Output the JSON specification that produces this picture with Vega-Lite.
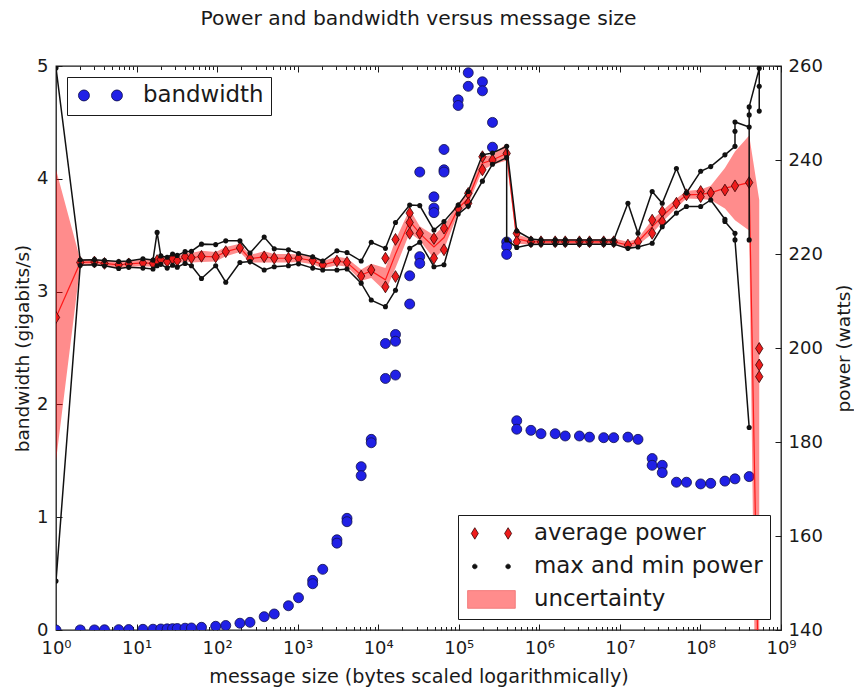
{
  "$schema": "https://vega.github.io/schema/vega-lite/v6.json",
  "width": 725,
  "height": 564,
  "autosize": {"type": "none"},
  "padding": {"left": 56, "top": 66, "right": 73, "bottom": 60},
  "background": "white",
  "title": {
    "text": "Power and bandwidth versus message size",
    "fontSize": 20.3,
    "fontWeight": "normal",
    "font": "DejaVu Sans",
    "color": "#1a1a1a",
    "offset": 28
  },
  "config": {
    "font": "DejaVu Sans",
    "view": {"stroke": "#1a1a1a", "strokeWidth": 1.3},
    "axis": {
      "grid": false,
      "domain": false,
      "tickColor": "#1a1a1a",
      "tickWidth": 1,
      "labelColor": "#1a1a1a",
      "titleColor": "#1a1a1a",
      "labelFont": "DejaVu Sans",
      "titleFont": "DejaVu Sans",
      "labelFontSize": 18,
      "titleFontSize": 18.5,
      "titleFontWeight": "normal"
    },
    "legend": {
      "title": null,
      "padding": 7,
      "offset": 11,
      "strokeColor": "#1a1a1a",
      "fillColor": "white",
      "cornerRadius": 0,
      "labelFont": "DejaVu Sans",
      "labelFontSize": 22.9,
      "labelColor": "#1a1a1a",
      "labelLimit": 400,
      "symbolSize": 100,
      "symbolStrokeWidth": 0.8,
      "symbolOffset": 15,
      "labelOffset": 31,
      "rowPadding": 9
    }
  },
  "datasets": {
    "bw": [
      {"s": 1, "bw": 0}, {"s": 2, "bw": 0.001}, {"s": 3, "bw": 0.001}, {"s": 4, "bw": 0.002},
      {"s": 6, "bw": 0.003}, {"s": 8, "bw": 0.004}, {"s": 12, "bw": 0.006}, {"s": 16, "bw": 0.007},
      {"s": 20, "bw": 0.009}, {"s": 24, "bw": 0.01}, {"s": 28, "bw": 0.012}, {"s": 32, "bw": 0.013},
      {"s": 40, "bw": 0.016}, {"s": 48, "bw": 0.018}, {"s": 64, "bw": 0.024}, {"s": 96, "bw": 0.033},
      {"s": 128, "bw": 0.04}, {"s": 192, "bw": 0.06}, {"s": 256, "bw": 0.068}, {"s": 384, "bw": 0.118},
      {"s": 512, "bw": 0.142}, {"s": 768, "bw": 0.215}, {"s": 1024, "bw": 0.286},
      {"s": 1536, "bw": 0.44}, {"s": 1536, "bw": 0.41}, {"s": 2048, "bw": 0.538},
      {"s": 3072, "bw": 0.8}, {"s": 3072, "bw": 0.77}, {"s": 4096, "bw": 0.99}, {"s": 4096, "bw": 0.96},
      {"s": 6144, "bw": 1.448}, {"s": 6144, "bw": 1.368}, {"s": 8192, "bw": 1.69}, {"s": 8192, "bw": 1.66},
      {"s": 12288, "bw": 2.54}, {"s": 12288, "bw": 2.23},
      {"s": 16384, "bw": 2.62}, {"s": 16384, "bw": 2.56}, {"s": 16384, "bw": 2.26},
      {"s": 24576, "bw": 3.14}, {"s": 24576, "bw": 2.89},
      {"s": 32768, "bw": 4.06}, {"s": 32768, "bw": 3.31}, {"s": 32768, "bw": 3.25},
      {"s": 49152, "bw": 3.84}, {"s": 49152, "bw": 3.74}, {"s": 49152, "bw": 3.7},
      {"s": 65536, "bw": 4.26}, {"s": 65536, "bw": 4.08}, {"s": 65536, "bw": 4.06},
      {"s": 98304, "bw": 4.7}, {"s": 98304, "bw": 4.65},
      {"s": 131072, "bw": 4.94}, {"s": 131072, "bw": 4.82},
      {"s": 196608, "bw": 4.86}, {"s": 196608, "bw": 4.78},
      {"s": 262144, "bw": 4.5}, {"s": 262144, "bw": 4.28},
      {"s": 393216, "bw": 3.44}, {"s": 393216, "bw": 3.4}, {"s": 393216, "bw": 3.33},
      {"s": 524288, "bw": 1.855}, {"s": 524288, "bw": 1.78},
      {"s": 786432, "bw": 1.77}, {"s": 1048576, "bw": 1.74}, {"s": 1572864, "bw": 1.74},
      {"s": 2097152, "bw": 1.72}, {"s": 3145728, "bw": 1.72}, {"s": 4194304, "bw": 1.71},
      {"s": 6291456, "bw": 1.705}, {"s": 8388608, "bw": 1.705}, {"s": 12582912, "bw": 1.71},
      {"s": 16777216, "bw": 1.69},
      {"s": 25165824, "bw": 1.52}, {"s": 25165824, "bw": 1.46},
      {"s": 33554432, "bw": 1.46}, {"s": 33554432, "bw": 1.395},
      {"s": 50331648, "bw": 1.31}, {"s": 67108864, "bw": 1.31}, {"s": 100663296, "bw": 1.295},
      {"s": 134217728, "bw": 1.3}, {"s": 201326592, "bw": 1.32}, {"s": 268435456, "bw": 1.34},
      {"s": 402653184, "bw": 1.36}
    ],
    "pw": [
      {"s": 1, "avg": 206.5, "lo": 176, "hi": 238},
      {"s": 2, "avg": 218.2, "lo": 217.6, "hi": 218.8},
      {"s": 3, "avg": 218.3, "lo": 217.7, "hi": 218.9},
      {"s": 4, "avg": 218.0, "lo": 217.4, "hi": 218.6},
      {"s": 6, "avg": 217.7, "lo": 217.0, "hi": 218.4},
      {"s": 8, "avg": 217.9, "lo": 217.3, "hi": 218.5},
      {"s": 12, "avg": 218.1, "lo": 217.4, "hi": 218.8},
      {"s": 16, "avg": 218.0, "lo": 217.3, "hi": 218.7},
      {"s": 18, "avg": 218.6, "lo": 217.7, "hi": 219.5},
      {"s": 20, "avg": 218.8, "lo": 218.0, "hi": 219.6},
      {"s": 24, "avg": 218.4, "lo": 217.6, "hi": 219.2},
      {"s": 28, "avg": 219.0, "lo": 218.1, "hi": 219.9},
      {"s": 32, "avg": 218.6, "lo": 217.8, "hi": 219.4},
      {"s": 40, "avg": 219.4, "lo": 218.5, "hi": 220.3},
      {"s": 48, "avg": 219.2, "lo": 218.2, "hi": 220.2},
      {"s": 64, "avg": 219.5, "lo": 218.3, "hi": 220.7},
      {"s": 96, "avg": 219.4, "lo": 218.4, "hi": 220.4},
      {"s": 128, "avg": 220.5, "lo": 219.5, "hi": 221.5},
      {"s": 192, "avg": 221.3, "lo": 220.4, "hi": 222.2},
      {"s": 256, "avg": 219.0, "lo": 218.2, "hi": 219.8},
      {"s": 384, "avg": 219.4, "lo": 218.2, "hi": 220.6},
      {"s": 512, "avg": 219.1, "lo": 218.2, "hi": 220.0},
      {"s": 768, "avg": 219.1, "lo": 218.2, "hi": 220.0},
      {"s": 1024, "avg": 219.1, "lo": 218.3, "hi": 219.9},
      {"s": 1536, "avg": 218.6, "lo": 217.8, "hi": 219.4},
      {"s": 2048, "avg": 217.7, "lo": 216.9, "hi": 218.5},
      {"s": 3072, "avg": 218.5, "lo": 217.6, "hi": 219.4},
      {"s": 4096, "avg": 218.2, "lo": 217.3, "hi": 219.1},
      {"s": 6144, "avg": 215.5, "lo": 214.3, "hi": 216.7},
      {"s": 8192, "avg": 216.4, "lo": 214.9, "hi": 217.9},
      {"s": 12288, "avg": 214.5, "lo": 212.0, "hi": 217.0},
      {"s": 16384, "avg": 220.0, "lo": 217.0, "hi": 223.0},
      {"s": 24576, "avg": 227.0, "lo": 224.5, "hi": 229.5},
      {"s": 32768, "avg": 224.4, "lo": 222.9, "hi": 225.9},
      {"s": 49152, "avg": 221.5, "lo": 219.0, "hi": 224.0},
      {"s": 65536, "avg": 223.5, "lo": 221.0, "hi": 226.0},
      {"s": 98304, "avg": 229.7, "lo": 228.7, "hi": 230.7},
      {"s": 131072, "avg": 231.8, "lo": 230.6, "hi": 233.0},
      {"s": 196608, "avg": 239.3, "lo": 237.8, "hi": 240.8},
      {"s": 262144, "avg": 240.0, "lo": 239.0, "hi": 241.0},
      {"s": 393216, "avg": 241.4, "lo": 239.9, "hi": 243.5},
      {"s": 524288, "avg": 223.2, "lo": 222.2, "hi": 224.2},
      {"s": 786432, "avg": 222.6, "lo": 222.0, "hi": 223.2},
      {"s": 1048576, "avg": 222.6, "lo": 222.0, "hi": 223.2},
      {"s": 1572864, "avg": 222.6, "lo": 222.0, "hi": 223.2},
      {"s": 2097152, "avg": 222.6, "lo": 222.0, "hi": 223.2},
      {"s": 3145728, "avg": 222.6, "lo": 222.0, "hi": 223.2},
      {"s": 4194304, "avg": 222.6, "lo": 222.0, "hi": 223.2},
      {"s": 6291456, "avg": 222.6, "lo": 222.0, "hi": 223.2},
      {"s": 8388608, "avg": 222.6, "lo": 221.9, "hi": 223.3},
      {"s": 12582912, "avg": 221.9, "lo": 221.2, "hi": 222.6},
      {"s": 16777216, "avg": 222.6, "lo": 221.9, "hi": 223.3},
      {"s": 25165824, "avg": 225.8, "lo": 224.3, "hi": 227.3},
      {"s": 33554432, "avg": 228.0, "lo": 226.8, "hi": 229.2},
      {"s": 50331648, "avg": 230.8, "lo": 229.8, "hi": 231.8},
      {"s": 67108864, "avg": 232.6, "lo": 231.8, "hi": 233.4},
      {"s": 100663296, "avg": 232.7, "lo": 231.7, "hi": 233.7},
      {"s": 134217728, "avg": 233.0, "lo": 231.5, "hi": 234.5},
      {"s": 201326592, "avg": 234.0, "lo": 229.7, "hi": 238.3},
      {"s": 268435456, "avg": 234.5, "lo": 227.2, "hi": 241.8},
      {"s": 402653184, "avg": 235.2, "lo": 225.0, "hi": 245.2},
      {"s": 536870912, "avg": 120, "lo": 60, "hi": 231.5}
    ],
    "dia": [
      {"s": 1, "p": 206.5}, {"s": 2, "p": 218.2}, {"s": 3, "p": 218.3}, {"s": 4, "p": 218.0},
      {"s": 6, "p": 217.7}, {"s": 8, "p": 217.9}, {"s": 12, "p": 218.1}, {"s": 16, "p": 218.0},
      {"s": 18, "p": 218.6}, {"s": 20, "p": 218.8}, {"s": 24, "p": 218.4}, {"s": 28, "p": 219.0},
      {"s": 32, "p": 218.6}, {"s": 40, "p": 219.4}, {"s": 48, "p": 219.2}, {"s": 64, "p": 219.5},
      {"s": 96, "p": 219.4}, {"s": 128, "p": 220.5}, {"s": 192, "p": 221.3}, {"s": 256, "p": 219.0},
      {"s": 384, "p": 219.4}, {"s": 512, "p": 219.1}, {"s": 768, "p": 219.1}, {"s": 1024, "p": 219.1},
      {"s": 1536, "p": 218.6}, {"s": 2048, "p": 217.7}, {"s": 3072, "p": 218.5}, {"s": 4096, "p": 218.2},
      {"s": 6144, "p": 215.3}, {"s": 8192, "p": 216.6},
      {"s": 12288, "p": 219.1}, {"s": 12288, "p": 213.0},
      {"s": 16384, "p": 223.1}, {"s": 16384, "p": 215.2},
      {"s": 24576, "p": 228.7}, {"s": 24576, "p": 226.7}, {"s": 24576, "p": 224.4},
      {"s": 32768, "p": 224.4},
      {"s": 49152, "p": 223.3}, {"s": 49152, "p": 219.1},
      {"s": 65536, "p": 225.5}, {"s": 65536, "p": 220.9},
      {"s": 98304, "p": 229.7},
      {"s": 131072, "p": 232.9}, {"s": 131072, "p": 230.8},
      {"s": 196608, "p": 240.7}, {"s": 196608, "p": 237.9},
      {"s": 262144, "p": 240.0}, {"s": 393216, "p": 241.4},
      {"s": 524288, "p": 224.4}, {"s": 524288, "p": 222.6},
      {"s": 786432, "p": 222.6}, {"s": 1048576, "p": 222.6}, {"s": 1572864, "p": 222.6},
      {"s": 2097152, "p": 222.6}, {"s": 3145728, "p": 222.6}, {"s": 4194304, "p": 222.6},
      {"s": 6291456, "p": 222.6}, {"s": 8388608, "p": 222.6}, {"s": 12582912, "p": 221.9},
      {"s": 16777216, "p": 222.6},
      {"s": 25165824, "p": 227.2}, {"s": 25165824, "p": 224.4},
      {"s": 33554432, "p": 229.0}, {"s": 33554432, "p": 226.9},
      {"s": 50331648, "p": 230.8}, {"s": 67108864, "p": 232.6},
      {"s": 100663296, "p": 233.3}, {"s": 100663296, "p": 232.2},
      {"s": 134217728, "p": 233.0}, {"s": 201326592, "p": 233.6}, {"s": 268435456, "p": 234.5},
      {"s": 402653184, "p": 235.2},
      {"s": 536870912, "p": 199.9}, {"s": 536870912, "p": 196.4}, {"s": 536870912, "p": 193.9}
    ],
    "ext": [
      {"s": 1, "k": "max", "p": 259.6}, {"s": 2, "k": "max", "p": 218.7}, {"s": 3, "k": "max", "p": 218.8},
      {"s": 4, "k": "max", "p": 218.6}, {"s": 6, "k": "max", "p": 218.4}, {"s": 8, "k": "max", "p": 218.5},
      {"s": 12, "k": "max", "p": 219.0}, {"s": 16, "k": "max", "p": 218.7}, {"s": 18, "k": "max", "p": 224.6},
      {"s": 20, "k": "max", "p": 219.6}, {"s": 24, "k": "max", "p": 219.3}, {"s": 28, "k": "max", "p": 220.0},
      {"s": 32, "k": "max", "p": 219.7}, {"s": 40, "k": "max", "p": 220.5}, {"s": 48, "k": "max", "p": 220.6},
      {"s": 64, "k": "max", "p": 222.1}, {"s": 96, "k": "max", "p": 222.0}, {"s": 128, "k": "max", "p": 222.8},
      {"s": 192, "k": "max", "p": 222.8}, {"s": 256, "k": "max", "p": 220.2}, {"s": 384, "k": "max", "p": 223.6},
      {"s": 512, "k": "max", "p": 221.1}, {"s": 768, "k": "max", "p": 220.9}, {"s": 1024, "k": "max", "p": 220.1},
      {"s": 1536, "k": "max", "p": 219.4}, {"s": 2048, "k": "max", "p": 218.5}, {"s": 3072, "k": "max", "p": 220.7},
      {"s": 4096, "k": "max", "p": 220.3}, {"s": 6144, "k": "max", "p": 218.5}, {"s": 8192, "k": "max", "p": 222.5},
      {"s": 12288, "k": "max", "p": 221.2}, {"s": 16384, "k": "max", "p": 226.7}, {"s": 24576, "k": "max", "p": 230.4},
      {"s": 32768, "k": "max", "p": 230.3}, {"s": 49152, "k": "max", "p": 225.1}, {"s": 65536, "k": "max", "p": 226.9},
      {"s": 98304, "k": "max", "p": 230.4}, {"s": 131072, "k": "max", "p": 233.3}, {"s": 196608, "k": "max", "p": 241.1},
      {"s": 262144, "k": "max", "p": 241.5}, {"s": 393216, "k": "max", "p": 242.9}, {"s": 524288, "k": "max", "p": 224.9},
      {"s": 786432, "k": "max", "p": 223.2}, {"s": 1048576, "k": "max", "p": 223.0}, {"s": 1572864, "k": "max", "p": 223.0},
      {"s": 2097152, "k": "max", "p": 223.0}, {"s": 3145728, "k": "max", "p": 223.0}, {"s": 4194304, "k": "max", "p": 223.0},
      {"s": 6291456, "k": "max", "p": 223.0}, {"s": 8388608, "k": "max", "p": 223.0}, {"s": 12582912, "k": "max", "p": 230.8},
      {"s": 16777216, "k": "max", "p": 224.4}, {"s": 25165824, "k": "max", "p": 233.3}, {"s": 33554432, "k": "max", "p": 230.8},
      {"s": 50331648, "k": "max", "p": 238.2}, {"s": 67108864, "k": "max", "p": 233.0}, {"s": 100663296, "k": "max", "p": 237.6},
      {"s": 134217728, "k": "max", "p": 238.6}, {"s": 201326592, "k": "max", "p": 241.1},
      {"s": 268435456, "k": "max", "p": 242.9}, {"s": 268435456, "k": "max", "p": 246.1}, {"s": 268435456, "k": "max", "p": 248.1},
      {"s": 402653184, "k": "max", "p": 247.0}, {"s": 402653184, "k": "max", "p": 223.0}, {"s": 402653184, "k": "max", "p": 249.6}, {"s": 402653184, "k": "max", "p": 251.3},
      {"s": 536870912, "k": "max", "p": 259.5}, {"s": 536870912, "k": "max", "p": 255.7}, {"s": 536870912, "k": "max", "p": 250.4},
      {"s": 1, "k": "min", "p": 150.4}, {"s": 2, "k": "min", "p": 217.6}, {"s": 3, "k": "min", "p": 217.7},
      {"s": 4, "k": "min", "p": 217.5}, {"s": 6, "k": "min", "p": 216.9}, {"s": 8, "k": "min", "p": 217.2},
      {"s": 12, "k": "min", "p": 217.0}, {"s": 16, "k": "min", "p": 216.8}, {"s": 18, "k": "min", "p": 217.5},
      {"s": 20, "k": "min", "p": 217.8}, {"s": 24, "k": "min", "p": 217.0}, {"s": 28, "k": "min", "p": 217.6},
      {"s": 32, "k": "min", "p": 217.2}, {"s": 40, "k": "min", "p": 218.0}, {"s": 48, "k": "min", "p": 217.5},
      {"s": 64, "k": "min", "p": 214.8}, {"s": 96, "k": "min", "p": 217.5}, {"s": 128, "k": "min", "p": 214.0},
      {"s": 192, "k": "min", "p": 218.2}, {"s": 256, "k": "min", "p": 218.4}, {"s": 384, "k": "min", "p": 216.6},
      {"s": 512, "k": "min", "p": 217.3}, {"s": 768, "k": "min", "p": 217.5}, {"s": 1024, "k": "min", "p": 217.9},
      {"s": 1536, "k": "min", "p": 217.0}, {"s": 2048, "k": "min", "p": 216.6}, {"s": 3072, "k": "min", "p": 216.6},
      {"s": 4096, "k": "min", "p": 216.8}, {"s": 6144, "k": "min", "p": 213.8}, {"s": 8192, "k": "min", "p": 210.2},
      {"s": 12288, "k": "min", "p": 208.8}, {"s": 16384, "k": "min", "p": 212.3}, {"s": 24576, "k": "min", "p": 221.2},
      {"s": 32768, "k": "min", "p": 222.5}, {"s": 49152, "k": "min", "p": 217.3}, {"s": 65536, "k": "min", "p": 217.7},
      {"s": 98304, "k": "min", "p": 228.5}, {"s": 131072, "k": "min", "p": 230.2}, {"s": 196608, "k": "min", "p": 235.5},
      {"s": 262144, "k": "min", "p": 239.1}, {"s": 393216, "k": "min", "p": 240.5}, {"s": 393216, "k": "min", "p": 223.0},
      {"s": 524288, "k": "min", "p": 221.4}, {"s": 786432, "k": "min", "p": 222.0}, {"s": 1048576, "k": "min", "p": 222.1},
      {"s": 1572864, "k": "min", "p": 222.1}, {"s": 2097152, "k": "min", "p": 222.1}, {"s": 3145728, "k": "min", "p": 222.1},
      {"s": 4194304, "k": "min", "p": 222.1}, {"s": 6291456, "k": "min", "p": 222.1}, {"s": 8388608, "k": "min", "p": 222.1},
      {"s": 12582912, "k": "min", "p": 221.2}, {"s": 16777216, "k": "min", "p": 221.5}, {"s": 25165824, "k": "min", "p": 222.3},
      {"s": 33554432, "k": "min", "p": 225.8}, {"s": 50331648, "k": "min", "p": 228.7}, {"s": 67108864, "k": "min", "p": 230.1},
      {"s": 100663296, "k": "min", "p": 230.1}, {"s": 134217728, "k": "min", "p": 231.5},
      {"s": 201326592, "k": "min", "p": 227.4}, {"s": 201326592, "k": "min", "p": 226.9},
      {"s": 268435456, "k": "min", "p": 224.4}, {"s": 268435456, "k": "min", "p": 223.0},
      {"s": 402653184, "k": "min", "p": 183.1}
    ]
  },
  "layer": [
    {
      "data": {"name": "bw"},
      "mark": {"type": "point", "filled": true, "size": 100, "stroke": "#10104a", "strokeWidth": 0.8, "opacity": 1, "clip": true},
      "encoding": {
        "x": {
          "field": "s", "type": "quantitative",
          "scale": {"type": "log", "domain": [1, 1000000000], "nice": false},
          "axis": {
            "orient": "bottom",
            "values": [1, 10, 100, 1000, 10000, 100000, 1000000, 10000000, 100000000, 1000000000],
            "ticks": false,
            "labelPadding": 9,
            "labelFlush": false,
            "labelExpr": "'10' + ['⁰','¹','²','³','⁴','⁵','⁶','⁷','⁸','⁹'][round(log(datum.value) / LN10)]",
            "title": "message size (bytes scaled logarithmically)",
            "titleFontSize": 19.2,
            "titlePadding": 10
          }
        },
        "y": {
          "field": "bw", "type": "quantitative",
          "scale": {"domain": [0, 5], "nice": false},
          "axis": {
            "orient": "left",
            "values": [0, 1, 2, 3, 4, 5],
            "tickSize": -6,
            "labelPadding": 14,
            "title": "bandwidth (gigabits/s)",
            "titlePadding": 4
          }
        },
        "color": {
          "datum": "bandwidth",
          "scale": {"domain": ["bandwidth"], "range": ["#2020e6"]},
          "legend": {
            "orient": "top-left",
            "symbolType": "M-4.4,0a1.1,1.1 0 1,0 2.2,0a1.1,1.1 0 1,0 -2.2,0Z M2.2,0a1.1,1.1 0 1,0 2.2,0a1.1,1.1 0 1,0 -2.2,0Z",
            "symbolOpacity": 1
          }
        }
      }
    },
    {
      "data": {"name": "pw"},
      "mark": {"type": "area", "color": "#ff0000", "opacity": 0.45, "clip": true},
      "encoding": {
        "x": {
          "field": "s", "type": "quantitative",
          "scale": {"type": "log", "domain": [1, 1000000000], "nice": false},
          "axis": {
            "orient": "top",
            "values": [1, 10, 100, 1000, 10000, 100000, 1000000, 10000000, 100000000, 1000000000],
            "tickSize": -6, "labels": false, "title": null
          }
        },
        "y": {
          "field": "lo", "type": "quantitative",
          "scale": {"domain": [140, 260], "nice": false, "zero": false},
          "axis": {
            "orient": "right",
            "values": [140, 160, 180, 200, 220, 240, 260],
            "tickSize": -6,
            "labelPadding": 13,
            "title": "power (watts)",
            "titleAngle": 270,
            "titlePadding": 31
          }
        },
        "y2": {"field": "hi"}
      }
    },
    {
      "data": {"name": "pw"},
      "mark": {"type": "line", "color": "#ff1a1a", "strokeWidth": 1.2, "clip": true},
      "encoding": {
        "x": {
          "field": "s", "type": "quantitative",
          "scale": {"type": "log", "domain": [1, 1000000000], "nice": false},
          "axis": {
            "orient": "bottom",
            "values": [2, 3, 4, 5, 6, 7, 8, 9, 20, 30, 40, 50, 60, 70, 80, 90, 200, 300, 400, 500, 600, 700, 800, 900, 2000, 3000, 4000, 5000, 6000, 7000, 8000, 9000, 20000, 30000, 40000, 50000, 60000, 70000, 80000, 90000, 200000, 300000, 400000, 500000, 600000, 700000, 800000, 900000, 2000000, 3000000, 4000000, 5000000, 6000000, 7000000, 8000000, 9000000, 20000000, 30000000, 40000000, 50000000, 60000000, 70000000, 80000000, 90000000, 200000000, 300000000, 400000000, 500000000, 600000000, 700000000, 800000000, 900000000],
            "tickSize": -3.5, "labels": false, "title": null
          }
        },
        "y": {
          "field": "avg", "type": "quantitative",
          "scale": {"domain": [140, 260], "nice": false, "zero": false},
          "axis": null
        }
      }
    },
    {
      "data": {"name": "dia"},
      "mark": {"type": "point", "shape": "M0,-1L0.62,0L0,1L-0.62,0Z", "filled": true, "size": 140, "color": "#ee1c1c", "stroke": "#3a0000", "strokeWidth": 0.8, "opacity": 1, "clip": true},
      "encoding": {
        "x": {
          "field": "s", "type": "quantitative",
          "scale": {"type": "log", "domain": [1, 1000000000], "nice": false},
          "axis": null
        },
        "y": {
          "field": "p", "type": "quantitative",
          "scale": {"domain": [140, 260], "nice": false, "zero": false},
          "axis": null
        }
      }
    },
    {
      "data": {"name": "ext"},
      "mark": {"type": "line", "color": "#111111", "strokeWidth": 1.5, "clip": true},
      "encoding": {
        "x": {
          "field": "s", "type": "quantitative",
          "scale": {"type": "log", "domain": [1, 1000000000], "nice": false},
          "axis": {
            "orient": "top",
            "values": [2, 3, 4, 5, 6, 7, 8, 9, 20, 30, 40, 50, 60, 70, 80, 90, 200, 300, 400, 500, 600, 700, 800, 900, 2000, 3000, 4000, 5000, 6000, 7000, 8000, 9000, 20000, 30000, 40000, 50000, 60000, 70000, 80000, 90000, 200000, 300000, 400000, 500000, 600000, 700000, 800000, 900000, 2000000, 3000000, 4000000, 5000000, 6000000, 7000000, 8000000, 9000000, 20000000, 30000000, 40000000, 50000000, 60000000, 70000000, 80000000, 90000000, 200000000, 300000000, 400000000, 500000000, 600000000, 700000000, 800000000, 900000000],
            "tickSize": -3.5, "labels": false, "title": null
          }
        },
        "y": {
          "field": "p", "type": "quantitative",
          "scale": {"domain": [140, 260], "nice": false, "zero": false},
          "axis": null
        },
        "detail": {"field": "k"},
        "order": {"value": null}
      }
    },
    {
      "data": {"name": "ext"},
      "mark": {"type": "point", "filled": true, "size": 26, "color": "#111111", "opacity": 1, "clip": true},
      "encoding": {
        "x": {
          "field": "s", "type": "quantitative",
          "scale": {"type": "log", "domain": [1, 1000000000], "nice": false},
          "axis": {
            "orient": "bottom",
            "values": [1, 10, 100, 1000, 10000, 100000, 1000000, 10000000, 100000000, 1000000000],
            "tickSize": -6, "labels": false, "title": null
          }
        },
        "y": {
          "field": "p", "type": "quantitative",
          "scale": {"domain": [140, 260], "nice": false, "zero": false},
          "axis": null
        }
      }
    },
    {
      "data": {"name": "dia"},
      "transform": [{"filter": "false"}],
      "mark": {"type": "point", "filled": true, "strokeWidth": 0.8, "opacity": 1},
      "encoding": {
        "x": {
          "field": "s", "type": "quantitative",
          "scale": {"type": "log", "domain": [1, 1000000000], "nice": false},
          "axis": null
        },
        "y": {
          "field": "p", "type": "quantitative",
          "scale": {"domain": [140, 260], "nice": false, "zero": false},
          "axis": null
        },
        "color": {
          "datum": "average power",
          "scale": {"domain": ["average power", "max and min power", "uncertainty"], "range": ["#ee1c1c", "#111111", "#ff8c8c"]},
          "legend": {"orient": "bottom-right", "symbolOpacity": 1}
        },
        "shape": {
          "datum": "average power",
          "scale": {
            "domain": ["average power", "max and min power", "uncertainty"],
            "range": [
              "M-3.33,-1.15L-2.63,0L-3.33,1.15L-4.03,0Z M3.33,-1.15L4.03,0L3.33,1.15L2.63,0Z",
              "M-3.79,0a0.46,0.46 0 1,0 0.92,0a0.46,0.46 0 1,0 -0.92,0Z M2.87,0a0.46,0.46 0 1,0 0.92,0a0.46,0.46 0 1,0 -0.92,0Z",
              "M-4.77,-1.77H4.77V1.77H-4.77Z"
            ]
          },
          "legend": {"orient": "bottom-right", "symbolOpacity": 1}
        },
        "stroke": {
          "datum": "average power",
          "scale": {"domain": ["average power", "max and min power", "uncertainty"], "range": ["#3a0000", "#111111", "#f07070"]},
          "legend": {"orient": "bottom-right", "symbolOpacity": 1}
        }
      }
    }
  ],
  "resolve": {
    "scale": {"y": "independent", "color": "independent", "shape": "independent", "stroke": "independent"},
    "axis": {"x": "independent", "y": "independent"}
  }
}
